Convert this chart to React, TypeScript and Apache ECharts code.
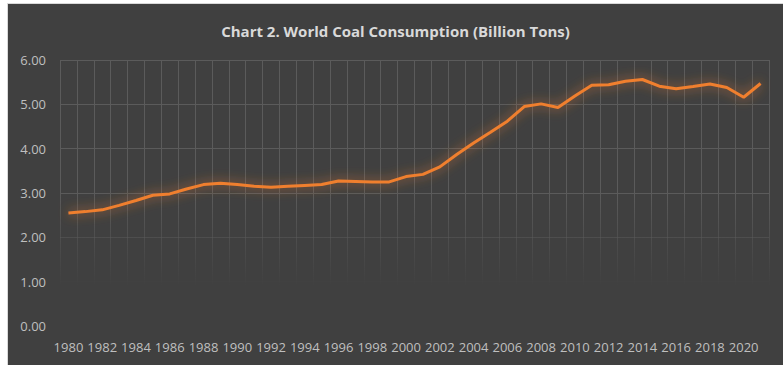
import React, { useEffect, useRef } from "react";
import * as echarts from "echarts";

// World coal consumption, billion tons
const years: string[] = [
  "1980", "1981", "1982", "1983", "1984", "1985", "1986", "1987", "1988", "1989",
  "1990", "1991", "1992", "1993", "1994", "1995", "1996", "1997", "1998", "1999",
  "2000", "2001", "2002", "2003", "2004", "2005", "2006", "2007", "2008", "2009",
  "2010", "2011", "2012", "2013", "2014", "2015", "2016", "2017", "2018", "2019",
  "2020", "2021",
];

const consumption: number[] = [
  2.55, 2.58, 2.62, 2.72, 2.83, 2.95, 2.98, 3.09, 3.19, 3.22,
  3.19, 3.15, 3.13, 3.15, 3.17, 3.19, 3.27, 3.26, 3.25, 3.25,
  3.37, 3.42, 3.59, 3.87, 4.13, 4.37, 4.62, 4.95, 5.01, 4.93,
  5.19, 5.43, 5.44, 5.52, 5.56, 5.41, 5.35, 5.40, 5.46, 5.38,
  5.16, 5.47,
];

const titleText = "Chart 2. World Coal Consumption (Billion Tons)";

const BG = "#404040";
const ORANGE = "#F07F2F";
const GRID = "#5b5b5b";

// grid lines fade out toward the bottom of the plot
const fadingGrid = () =>
  new echarts.graphic.LinearGradient(
    0, 56, 0, 322,
    [
      { offset: 0, color: GRID },
      { offset: 0.5, color: GRID },
      { offset: 0.72, color: "rgba(91,91,91,0.35)" },
      { offset: 0.85, color: "rgba(91,91,91,0)" },
      { offset: 1, color: "rgba(91,91,91,0)" },
    ],
    true
  );

export default function App() {
  const ref = useRef<HTMLDivElement>(null);

  useEffect(() => {
    if (!ref.current) return;
    const chart = echarts.init(ref.current, undefined, { renderer: "svg" });
    chart.setOption({
      animation: false,
      backgroundColor: BG,
      title: {
        text: titleText,
        left: "center",
        top: 14,
        textStyle: {
          color: "#d9d9d9",
          fontSize: 15,
          fontWeight: "bold",
          fontFamily: "Open Sans",
        },
      },
      grid: { left: 52, right: 14, top: 56, bottom: 39, containLabel: false },
      xAxis: {
        type: "category",
        data: years,
        boundaryGap: true,
        axisLine: { show: false },
        axisTick: { show: false },
        axisLabel: {
          interval: 1,
          color: "#bfbfbf",
          fontSize: 13,
          fontFamily: "Open Sans",
          margin: 14,
        },
        splitLine: {
          show: true,
          interval: 0,
          lineStyle: { color: fadingGrid(), width: 1 },
        },
      },
      yAxis: {
        type: "value",
        min: 0,
        max: 6,
        interval: 1,
        axisLine: { show: false },
        axisTick: { show: false },
        axisLabel: {
          color: "#bfbfbf",
          fontSize: 13,
          fontFamily: "Open Sans",
          margin: 14,
          formatter: (v: number) => v.toFixed(2),
        },
        splitLine: {
          show: true,
          lineStyle: { color: fadingGrid(), width: 1 },
        },
      },
      series: [
        {
          type: "line",
          data: consumption,
          symbol: "none",
          smooth: false,
          lineStyle: {
            color: ORANGE,
            width: 3,
            shadowColor: "rgba(240,127,47,0.8)",
            shadowBlur: 12,
          },
        },
      ],
    });
    return () => chart.dispose();
  }, []);

  return (
    <div
      style={{
        position: "absolute",
        left: 0,
        top: 0,
        width: 783,
        height: 365,
        background: "#ffffff",
        overflow: "hidden",
      }}
    >
      <div
        style={{
          position: "absolute",
          left: 7,
          top: 3,
          width: 776,
          height: 362,
          background: "#d9d9d9",
        }}
      />
      <div
        ref={ref}
        style={{ position: "absolute", left: 8, top: 4, width: 775, height: 361 }}
      />
    </div>
  );
}
